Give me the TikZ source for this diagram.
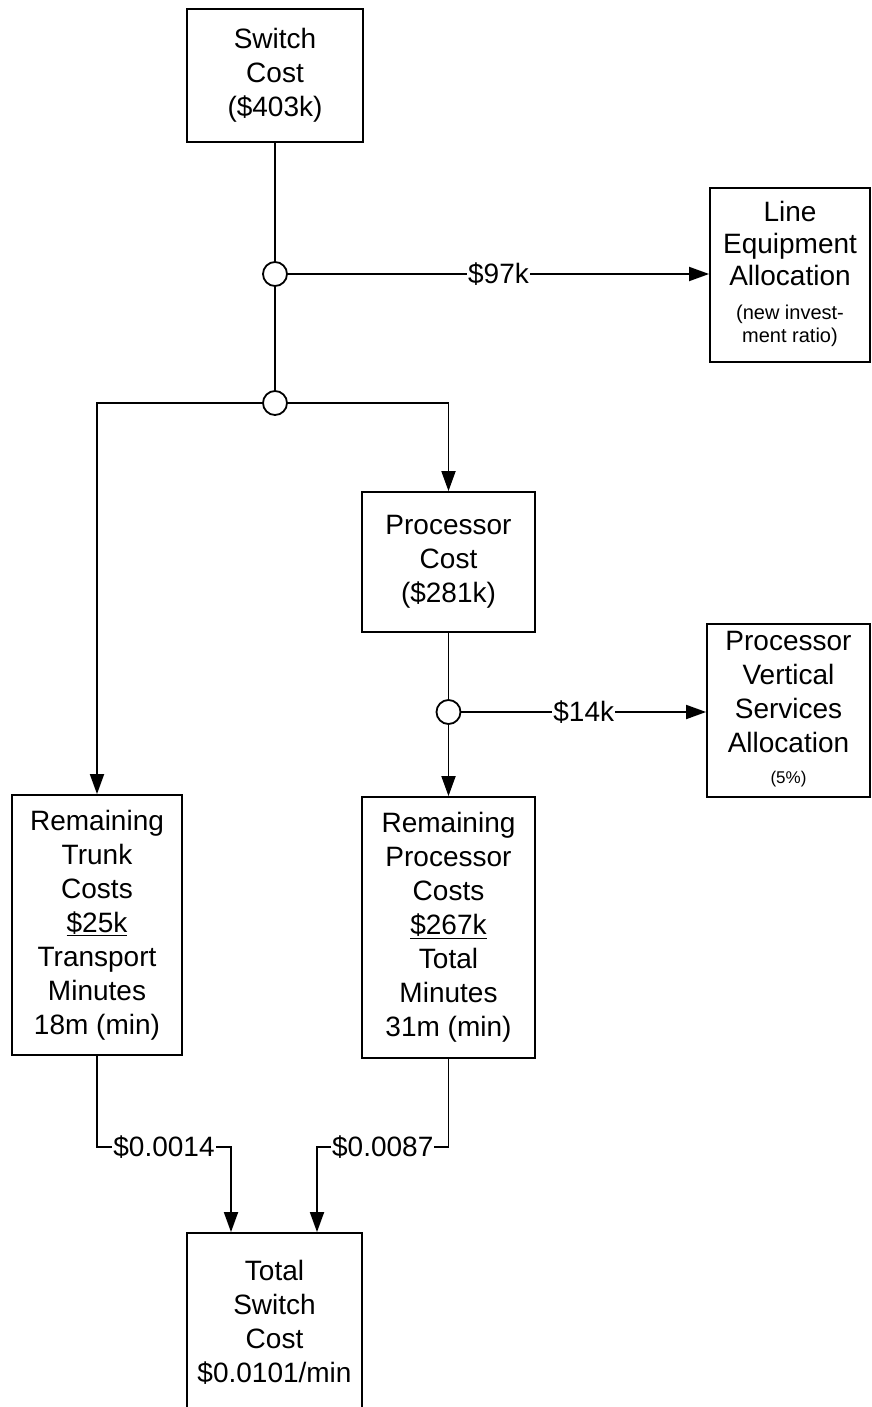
\documentclass[tikz,border=0pt]{standalone}
\usepackage{fontspec}
\setmainfont{Liberation Sans}
\usetikzlibrary{arrows.meta}
\tikzset{
 box/.style={draw, line width=1.8pt, inner sep=2pt, align=center, font=\fontsize{28}{34}\selectfont, anchor=center},
 jn/.style={draw, circle, line width=1.8pt, minimum size=24pt, inner sep=0pt, fill=white},
 conn/.style={line width=1.8pt},
 arr/.style={line width=1.8pt, -{Triangle[length=20pt,width=14pt]}},
 lbl/.style={fill=white, inner sep=1pt, font=\fontsize{28}{34}\selectfont},
}
\newcommand\smallf{\fontsize{20}{22}\selectfont}
\newcommand\smallg{\fontsize{17}{20}\selectfont}
\begin{document}
\begin{tikzpicture}[x=1pt,y=-1pt]
\useasboundingbox (0,0) rectangle (872,1407);
\node[box, minimum width=176pt, minimum height=133pt] (sc) at (275,75.5) {Switch\\Cost\\(\$403k)};
\node[box, minimum width=160pt, minimum height=174pt] (le) at (790,275) {\begin{tabular}{@{}c@{}}Line\\[-2pt]Equipment\\[-2pt]Allocation\\\smallf(new invest-\\[-11pt]\smallf ment ratio)\end{tabular}};
\node[box, minimum width=173pt, minimum height=140pt] (pc) at (448.5,562) {Processor\\Cost\\(\$281k)};
\node[box, minimum width=163pt, minimum height=173pt] (pv) at (788.5,710.5) {\begin{tabular}{@{}c@{}}Processor\\Vertical\\Services\\Allocation\\[-3pt]\smallg(5\%)\end{tabular}};
\node[box, minimum width=170pt, minimum height=260pt] (rt) at (97,925) {Remaining\\Trunk\\Costs\\\underline{\$25k}\\Transport\\Minutes\\18m (min)};
\node[box, minimum width=173pt, minimum height=261pt] (rp) at (448.5,927.5) {Remaining\\Processor\\Costs\\\underline{\$267k}\\Total\\Minutes\\31m (min)};
\node[box, minimum width=175pt, minimum height=178pt] (ts) at (274.5,1322) {Total\\Switch\\Cost\\\$0.0101/min};
\node[jn] (c1) at (275,274) {};
\node[jn] (c2) at (275,403) {};
\node[jn] (c3) at (448.5,712) {};
\draw[conn] (sc.south) -- (c1.north);
\draw[arr] (c1.east) -- node[lbl]{\$97k} (c1.east -| le.west);
\draw[conn] (c1.south) -- (c2.north);
\draw[arr] (c2.west) -| (rt.north);
\draw[arr] (c2.east) -| (pc.north);
\draw[conn] (pc.south) -- (c3.north);
\draw[arr] (c3.east) -- node[lbl]{\$14k} (c3.east -| pv.west);
\draw[arr] (c3.south) -- (rp.north);
\coordinate (j1) at (231,1147);
\coordinate (j2) at (317,1147);
\draw[arr] (rt.south) |- node[lbl,pos=0.75]{\$0.0014} (j1) -- (j1 |- ts.north);
\draw[arr] (rp.south) |- node[lbl,pos=0.75]{\$0.0087} (j2) -- (j2 |- ts.north);
\end{tikzpicture}
\end{document}
